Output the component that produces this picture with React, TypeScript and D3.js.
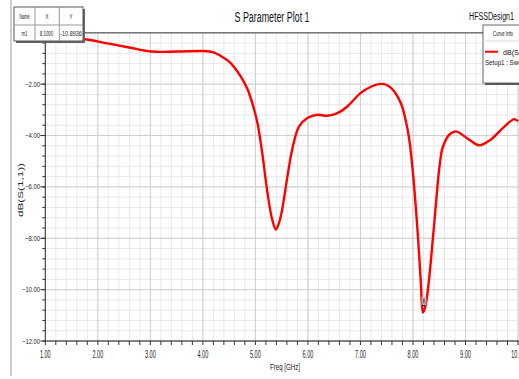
import React from "react";
import * as d3 from "d3";

// curve samples (GHz, dB)
const freq = [
  1.0, 1.4, 1.73, 2.18, 2.62, 3.03, 3.5, 4.02, 4.2, 4.34, 4.5, 4.6, 4.72, 4.85,
  4.95, 5.04, 5.13, 5.23, 5.32, 5.39, 5.45, 5.51, 5.61, 5.7, 5.83, 5.99, 6.18,
  6.37, 6.56, 6.75, 7.0, 7.2, 7.39, 7.52, 7.64, 7.77, 7.85, 7.93, 8.0, 8.09,
  8.15, 8.19, 8.23, 8.27, 8.34, 8.44, 8.5, 8.56, 8.63, 8.69, 8.82, 8.98, 9.1,
  9.26, 9.48, 9.74, 9.93, 10.0,
];
const s11 = [
  -0.15, -0.2, -0.24, -0.41, -0.58, -0.73, -0.73, -0.71, -0.76, -0.9, -1.12,
  -1.35, -1.7, -2.2, -2.8, -3.52, -4.68, -6.23, -7.27, -7.66, -7.4, -6.88,
  -5.59, -4.55, -3.65, -3.32, -3.19, -3.23, -3.13, -2.87, -2.35, -2.1, -1.99,
  -2.05, -2.28, -2.74, -3.3, -4.16, -5.46, -7.79, -9.73, -10.89, -10.7, -10.25,
  -8.9, -6.6, -5.3, -4.5, -4.15, -3.97, -3.84, -4.03, -4.2, -4.38, -4.16,
  -3.65, -3.36, -3.45,
];

const xMajor = [1, 2, 3, 4, 5, 6, 7, 8, 9, 10];
const yMajor = [0, -2, -4, -6, -8, -10, -12];

const title = "S Parameter Plot 1";
const design = "HFSSDesign1";
const xTitle = "Freq [GHz]";
const yTitle = "dB(S(1,1))";
const legendHead = "Curve Info";
const legendName = "dB(S(1,";
const legendSetup = "Setup1 : Swee";
const markerCols = ["Name", "X", "Y"];
const markerRow = ["m1", "8.1000", "-10.8936"];

const W = 519;
const H = 379;
const FONT = "'Liberation Sans', Arial, sans-serif";

const Txt = (p: any) => {
  const { len, children, ...rest } = p;
  return (
    <text
      fontFamily={FONT}
      textLength={len}
      lengthAdjust="spacingAndGlyphs"
      {...rest}
    >
      {children}
    </text>
  );
};

const App = () => {
  const x = d3.scaleLinear().domain([1, 10]).range([45.3, 518]);
  const y = d3.scaleLinear().domain([-12, 0]).range([341, 32.8]);

  const xMinor = d3.range(1, 10.001, 0.2);
  const yMinor = d3.range(-12, 0.001, 0.4);

  const data = freq.map((f, i) => [f, s11[i]] as [number, number]);
  const line = d3
    .line<[number, number]>()
    .x((d) => x(d[0]))
    .y((d) => y(d[1]))
    .curve(d3.curveCatmullRom.alpha(0.5));

  const minIdx = d3.minIndex(s11);
  const mx = x(freq[minIdx]);
  const my = y(s11[minIdx]);

  const [x0, x1] = x.range();
  const [y0, y1] = y.range();
  const fmt = d3.format(".2f");

  return (
    <svg
      width={W}
      height={H}
      style={{ position: "absolute", left: 0, top: 0, background: "#fff" }}
    >
      <rect width={W} height={H} fill="#fff" />
      {/* outer frame */}
      <line x1={11} x2={11} y1={0} y2={376} stroke="#999" strokeWidth={1} />

      {/* grid */}
      <g>
        {xMinor.map((v, i) => (
          <line key={"xm" + i} x1={x(v)} x2={x(v)} y1={y1} y2={y0} stroke="#e8e8e8" />
        ))}
        {yMinor.map((v, i) => (
          <line key={"ym" + i} x1={x0} x2={x1} y1={y(v)} y2={y(v)} stroke="#e8e8e8" />
        ))}
        {xMajor.map((v) => (
          <line key={"xM" + v} x1={x(v)} x2={x(v)} y1={y1} y2={y0} stroke="#cfcfcf" />
        ))}
        {yMajor.map((v) => (
          <line key={"yM" + v} x1={x0} x2={x1} y1={y(v)} y2={y(v)} stroke="#cfcfcf" />
        ))}
      </g>

      {/* axes */}
      <line x1={x0} x2={W} y1={y1} y2={y1} stroke="#777" strokeWidth={1.5} />
      <line x1={x0} x2={x0} y1={y1} y2={y0} stroke="#333" />
      <line x1={x0} x2={W} y1={y0} y2={y0} stroke="#222" />
      {yMinor.map((v, i) => (
        <line key={"yt" + i} x1={x0 - 3} x2={x0} y1={y(v)} y2={y(v)} stroke="#333" />
      ))}
      {yMajor.map((v) => (
        <line key={"yT" + v} x1={x0 - 5} x2={x0} y1={y(v)} y2={y(v)} stroke="#333" />
      ))}
      {xMinor.map((v, i) => (
        <line key={"xt" + i} x1={x(v)} x2={x(v)} y1={y0} y2={y0 + 4} stroke="#333" />
      ))}

      {/* tick labels (0.00 sits under the marker table) */}
      {yMajor
        .filter((v) => v !== 0)
        .map((v) => (
          <Txt
            key={"yl" + v}
            x={40}
            y={y(v) + 2.5}
            fontSize={7}
            textAnchor="end"
            len={fmt(v).length * 3}
            fill="#222"
          >
            {fmt(v)}
          </Txt>
        ))}
      {xMajor.map((v) => (
        <Txt
          key={"xl" + v}
          x={x(v)}
          y={358}
          fontSize={11}
          textAnchor="middle"
          len={fmt(v).length * 2.7}
          fill="#222"
        >
          {fmt(v)}
        </Txt>
      ))}
      <Txt x={285} y={370} fontSize={9} textAnchor="middle" len={30} fill="#222">
        {xTitle}
      </Txt>
      <Txt
        x={0}
        y={0}
        fontSize={8}
        textAnchor="middle"
        len={54}
        fill="#222"
        transform={`translate(23,190) rotate(-90)`}
      >
        {yTitle}
      </Txt>

      {/* curve */}
      <path d={line(data) || ""} fill="none" stroke="#ff0000" strokeWidth={2.4} />

      {/* marker */}
      <rect x={mx - 1.5} y={my - 16} width={5} height={9} fill="#bbb" opacity={0.8} />
      <line x1={mx - 1} x2={mx + 2} y1={my - 7} y2={my - 7} stroke="#000" />
      <line x1={mx + 1} x2={mx + 1} y1={my - 14} y2={my - 9} stroke="#333" />

      {/* titles */}
      <Txt x={272} y={21.5} fontSize={14} textAnchor="middle" len={75} fill="#111">
        {title}
      </Txt>
      <Txt x={469} y={20} fontSize={10} len={45} fill="#111">
        {design}
      </Txt>

      {/* legend */}
      <rect x={485} y={27} width={40} height={58} fill="#555" />
      <rect x={483} y={25} width={40} height={58} fill="#fff" stroke="#666" />
      <Txt x={493} y={36} fontSize={8} len={20} fill="#111">
        {legendHead}
      </Txt>
      <line x1={483} x2={519} y1={41} y2={41} stroke="#ddd" />
      <line x1={485} x2={498} y1={51.7} y2={51.7} stroke="#ff0000" strokeWidth={2} />
      <Txt x={503} y={54.5} fontSize={8} len={24} fill="#111">
        {legendName}
      </Txt>
      <Txt x={485} y={65} fontSize={8} len={40} fill="#111">
        {legendSetup}
      </Txt>

      {/* marker table */}
      <rect x={16} y={9} width={69} height={34} fill="#666" />
      <rect x={14} y={7} width={69} height={34} fill="#fff" stroke="#555" />
      <line x1={14} x2={83} y1={25} y2={25} stroke="#999" />
      <line x1={35} x2={35} y1={7} y2={41} stroke="#999" />
      <line x1={59.3} x2={59.3} y1={7} y2={41} stroke="#999" />
      {markerCols.map((c, i) => (
        <Txt
          key={"mc" + c}
          x={[24.5, 47, 71][i]}
          y={18.5}
          fontSize={7}
          textAnchor="middle"
          len={c.length > 1 ? 10 : 3}
          fill="#222"
        >
          {c}
        </Txt>
      ))}
      {markerRow.map((c, i) => (
        <Txt
          key={"mr" + c}
          x={[24.5, 46.5, 71][i]}
          y={35.5}
          fontSize={7}
          textAnchor="middle"
          len={[6, 13.5, 21.5][i]}
          fill="#222"
        >
          {c}
        </Txt>
      ))}
    </svg>
  );
};

export default App;
